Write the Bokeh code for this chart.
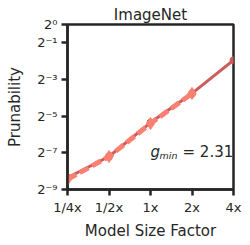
import numpy as np
from bokeh.plotting import figure
from bokeh.models import FixedTicker, Label, ColumnDataSource
from bokeh.embed import file_html
from bokeh.resources import INLINE

# ---- data ----
model_sizes = [0.25, 0.5, 1, 2, 4]
x_tick_labels = ["1/4x", "1/2x", "1x", "2x", "4x"]
fit_exponents = [-8.35, -7.2, -5.35, -3.76, -1.95]          # dark red line
measured_sizes = [0.25, 0.5, 1, 2]
measured_exponents = [-8.45, -7.2, -5.4, -3.76]              # salmon dashed line
y_tick_exponents = [0, -1, -3, -5, -7, -9]
y_tick_labels = ["2⁰", "2⁻¹", "2⁻³", "2⁻⁵", "2⁻⁷", "2⁻⁹"]
g_min = 2.31

fit_values = [2.0 ** e for e in fit_exponents]
measured_values = [2.0 ** e for e in measured_exponents]
y_ticks = [2.0 ** e for e in y_tick_exponents]

FONT = "DejaVu Sans"
DARK = "#262626"

p = figure(width=250, height=245, output_backend="svg", toolbar_location=None,
           x_axis_type="log", y_axis_type="log",
           x_range=(0.25, 4), y_range=(2.0 ** -9, 1.0),
           min_border_left=67, min_border_right=17, min_border_top=24,
           min_border_bottom=56, title="ImageNet")

p.title.text_font = FONT
p.title.text_font_size = "15px"
p.title.text_font_style = "normal"
p.title.text_color = DARK
p.title.align = "center"
p.title.standoff = 2

p.xgrid.visible = False
p.ygrid.visible = False
p.outline_line_color = DARK
p.outline_line_width = 2.5
p.outline_line_alpha = 1.0

for ax in (p.xaxis[0], p.yaxis[0]):
    ax.axis_line_color = DARK
    ax.axis_line_width = 2.5
    ax.major_tick_line_color = DARK
    ax.major_tick_line_width = 2.5
    ax.major_tick_out = 6
    ax.major_tick_in = 0
    ax.minor_tick_line_color = None
    ax.major_label_text_font = FONT
    ax.major_label_text_font_size = "13px"
    ax.major_label_text_color = DARK
    ax.axis_label_text_font = FONT
    ax.axis_label_text_font_size = "15px"
    ax.axis_label_text_font_style = "normal"
    ax.axis_label_text_color = DARK
    ax.major_label_standoff = 4
    ax.axis_label_standoff = 4

p.yaxis.axis_label_standoff = 10

p.xaxis.ticker = FixedTicker(ticks=model_sizes)
p.xaxis.major_label_overrides = dict(zip(model_sizes, x_tick_labels))
p.yaxis.ticker = FixedTicker(ticks=y_ticks)
p.yaxis.major_label_overrides = dict(zip(y_ticks, y_tick_labels))
p.xaxis.axis_label = "Model Size Factor"
p.yaxis.axis_label = "Prunability"

fit_src = ColumnDataSource(dict(x=model_sizes, y=fit_values))
meas_src = ColumnDataSource(dict(x=measured_sizes, y=measured_values))

p.line("x", "y", source=fit_src, line_color="#cd5c5c", line_width=3)
p.scatter("x", "y", source=fit_src, marker="circle", size=7,
          fill_color="#cd5c5c", line_color="#cd5c5c")
p.line("x", "y", source=meas_src, line_color="#fa8072", line_width=5,
       line_dash="10 4")
p.scatter("x", "y", source=meas_src, marker="diamond", size=12,
          fill_color="#fa8072", line_color="#fa8072")

# annotation g_min = 2.31
ann_y = 2.0 ** -7
p.add_layout(Label(x=1, y=ann_y, text="g", text_font=FONT, text_font_size="15px",
                   text_font_style="italic", text_color=DARK,
                   text_baseline="middle", x_offset=0, y_offset=1))
p.add_layout(Label(x=1, y=ann_y, text="min", text_font=FONT, text_font_size="9.5px",
                   text_font_style="italic", text_color=DARK,
                   text_baseline="middle", x_offset=9, y_offset=-3))
p.add_layout(Label(x=1, y=ann_y, text=f"= {g_min:.2f}", text_font=FONT,
                   text_font_size="15px", text_color=DARK,
                   text_baseline="middle", x_offset=32, y_offset=1))

open("out.html", "w").write(file_html(p, INLINE))
